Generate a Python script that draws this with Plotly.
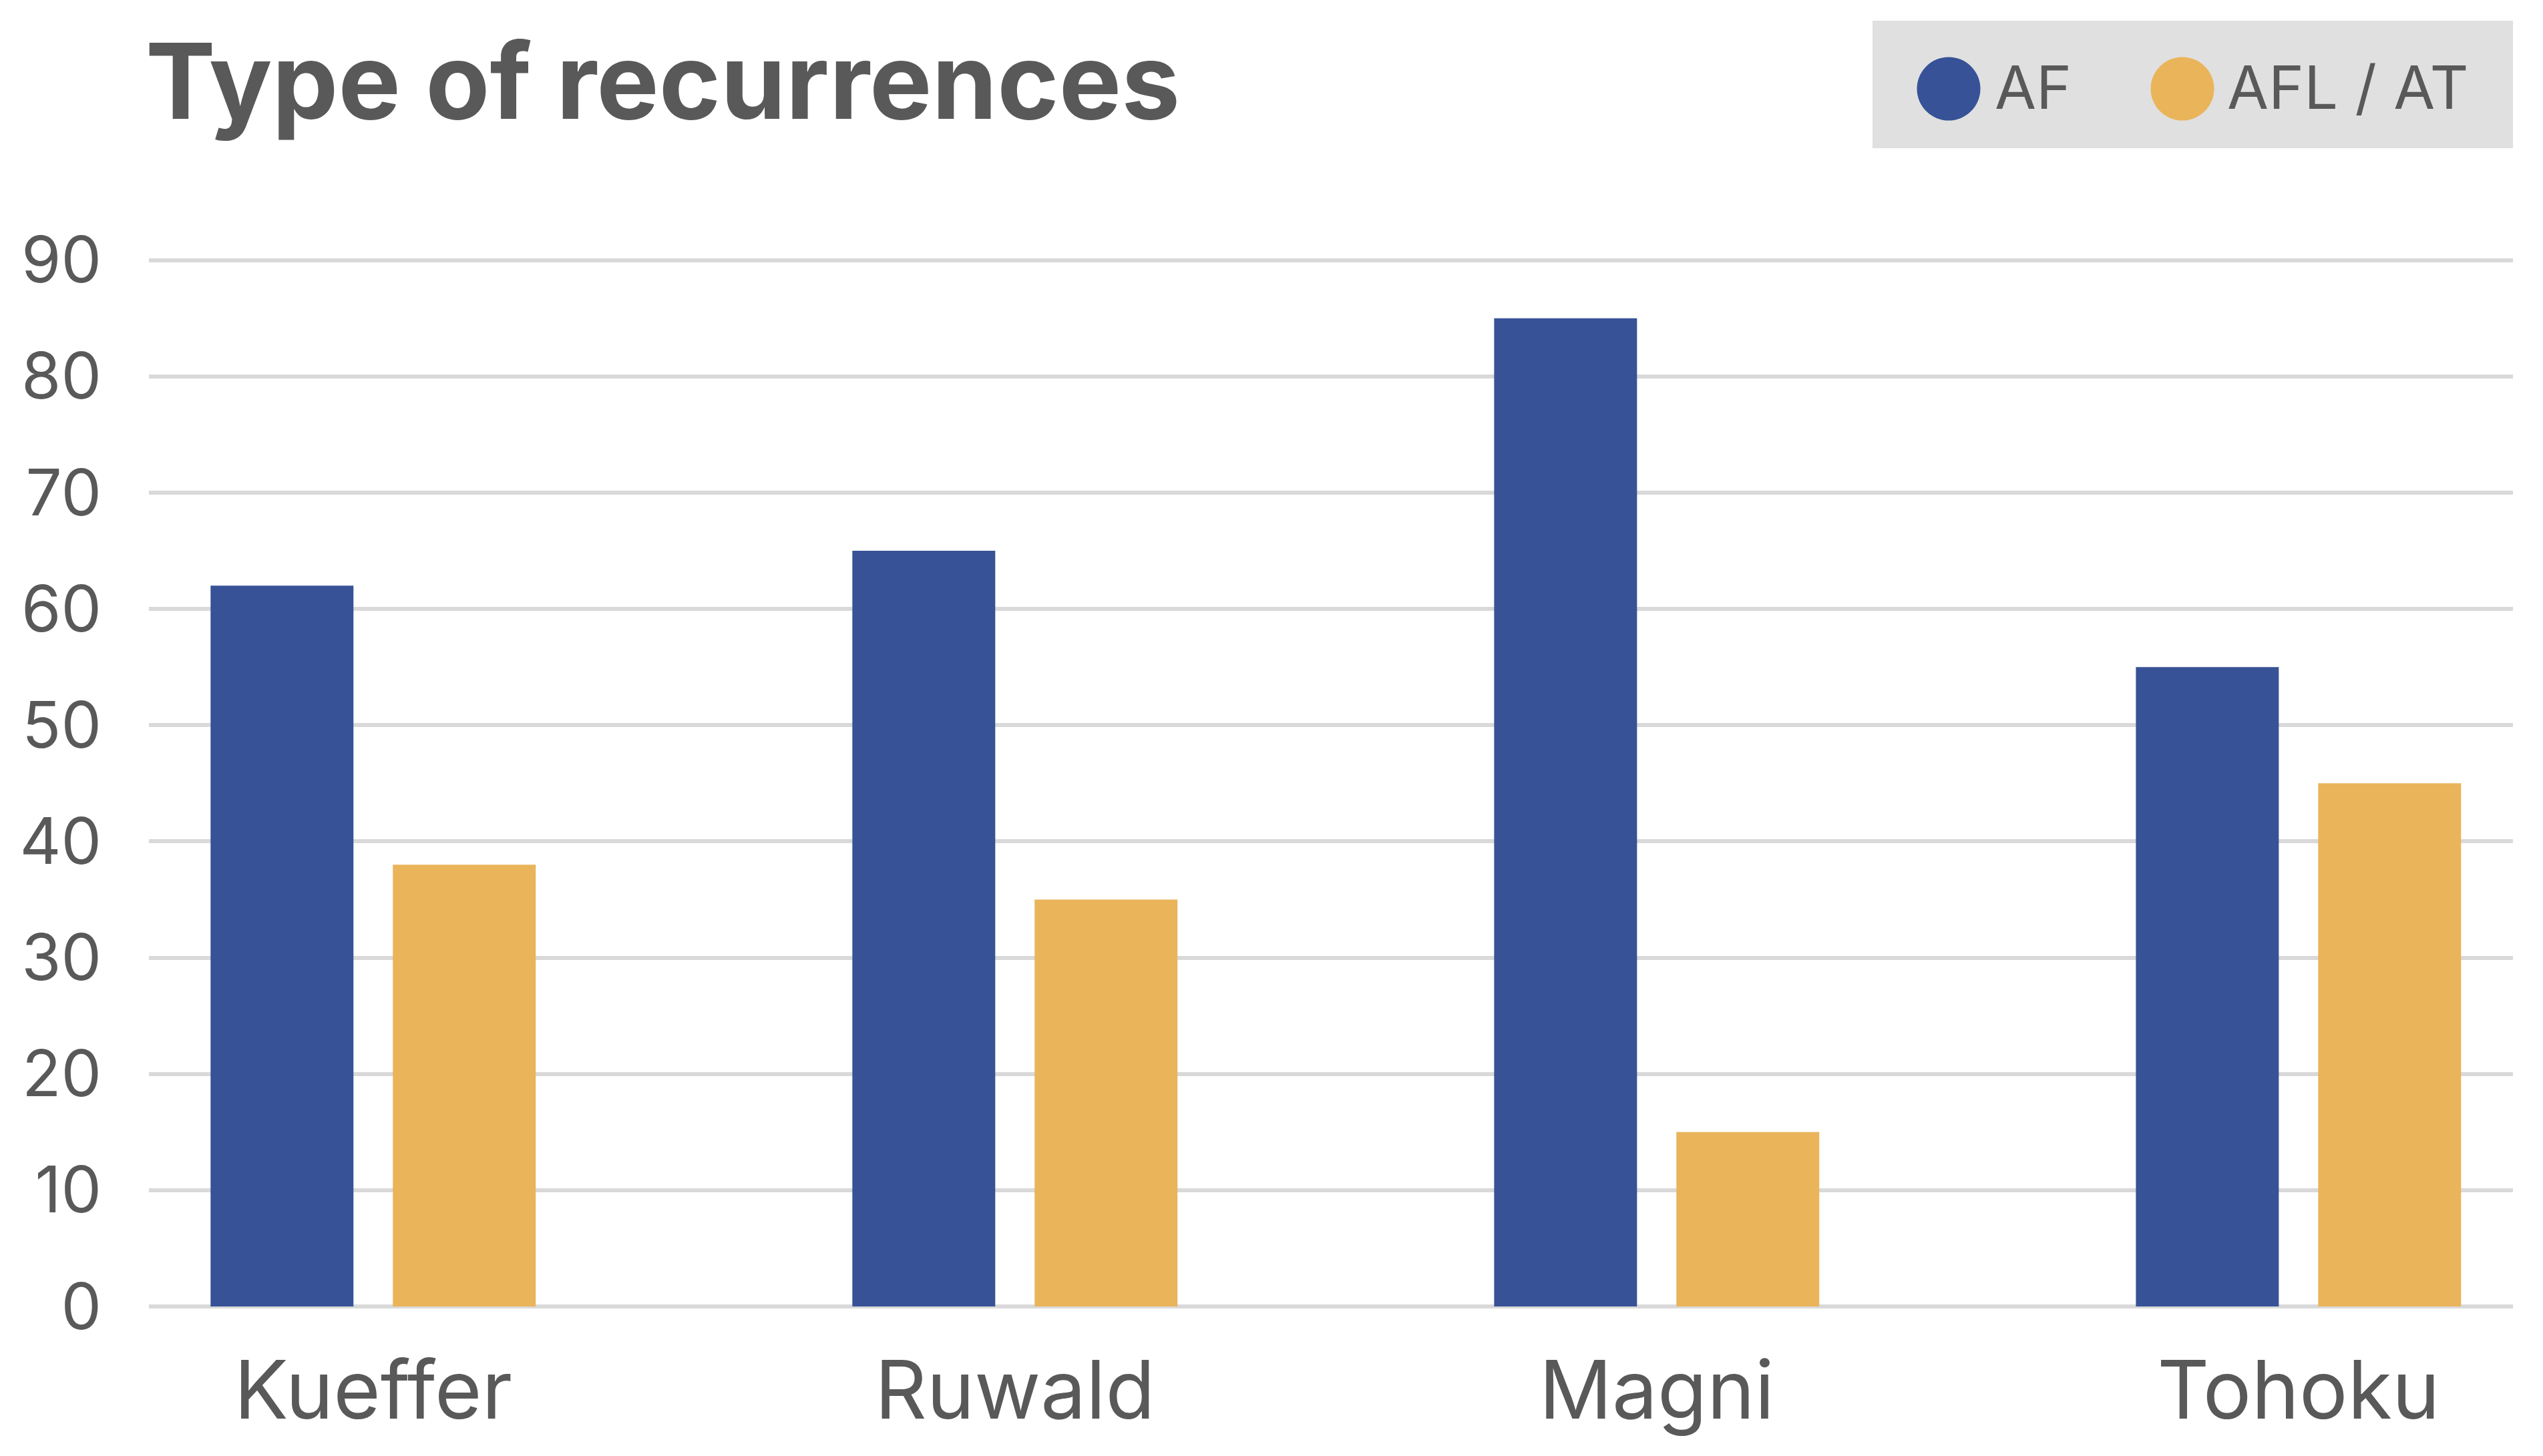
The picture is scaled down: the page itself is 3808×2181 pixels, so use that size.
import plotly.graph_objects as go

# ---------------- data ----------------
categories = ["Kueffer", "Ruwald", "Magni", "Tohoku"]
af_values = [62, 65, 85, 55]
afl_at_values = [38, 35, 15, 45]
series_names = ["AF", "AFL / AT"]
y_tick_values = [0, 10, 20, 30, 40, 50, 60, 70, 80, 90]
title_text = "Type of recurrences"

# ---------------- style ----------------
BLUE = "#375296"
ORANGE = "#EAB45B"
TEXT = "#595959"
GRID = "#d9d9d9"
LEGEND_BG = "#e0e0e0"
FONT = "Inter"

W, H = 3808, 2181
PL, PR = 223, 3763      # plot area left/right (px)
PT, PB = 381, 1957      # plot area top/bottom (px)
Y_TOP = 90.5


def px_to_paper_x(px):
    return (px - PL) / (PR - PL)


def px_to_paper_y(py):
    return (PB - py) / (PB - PT)


fig = go.Figure()
fig.add_trace(go.Bar(x=categories, y=af_values, name=series_names[0],
                     marker=dict(color=BLUE, line=dict(width=0)), showlegend=False))
fig.add_trace(go.Bar(x=categories, y=afl_at_values, name=series_names[1],
                     marker=dict(color=ORANGE, line=dict(width=0)), showlegend=False))

fig.update_layout(
    width=W, height=H,
    margin=dict(l=PL, r=W - PR, t=PT, b=H - PB, pad=0),
    paper_bgcolor="white", plot_bgcolor="white",
    barmode="group", bargap=0.432, bargroupgap=0.216,
    font=dict(family=FONT, color=TEXT),
    showlegend=False,
    title=dict(text="<b>" + title_text + "</b>", x=218 / W, xref="container",
               xanchor="left", y=1 - 123 / H, yref="container", yanchor="middle",
               pad=dict(l=0, r=0, t=0, b=0),
               font=dict(family=FONT, size=157, color=TEXT)),
    xaxis=dict(range=[-0.3494, 3.3342], showgrid=False, zeroline=False, showline=False,
               ticks="", tickfont=dict(family=FONT, size=121, color=TEXT),
               ticklabelstandoff=46),
    yaxis=dict(range=[0, Y_TOP], tickvals=y_tick_values, showgrid=True, gridcolor=GRID,
               gridwidth=6, zeroline=True, zerolinecolor=GRID, zerolinewidth=6,
               showline=False, ticks="", tickfont=dict(family=FONT, size=96, color=TEXT),
               ticklabelstandoff=70),
)

# ---------------- custom legend ----------------
fig.add_shape(type="rect", xref="paper", yref="paper",
              x0=px_to_paper_x(2804), x1=px_to_paper_x(3763),
              y0=px_to_paper_y(222), y1=px_to_paper_y(31),
              fillcolor=LEGEND_BG, line=dict(width=0), layer="below")

legend_items = [(series_names[0], BLUE, 2918, 2985), (series_names[1], ORANGE, 3268, 3333)]
for name, color, cx, tx in legend_items:
    r = 47.5
    fig.add_shape(type="circle", xref="paper", yref="paper",
                  x0=px_to_paper_x(cx - r), x1=px_to_paper_x(cx + r),
                  y0=px_to_paper_y(133 + r), y1=px_to_paper_y(133 - r),
                  fillcolor=color, line=dict(width=0))
    fig.add_annotation(text=name, xref="paper", yref="paper",
                       x=px_to_paper_x(tx), y=px_to_paper_y(130),
                       xanchor="left", yanchor="middle", showarrow=False,
                       font=dict(family=FONT, size=90, color=TEXT))

fig.write_html("out.html", config={"displayModeBar": False},
               post_script="document.body.style.margin='0px';")
